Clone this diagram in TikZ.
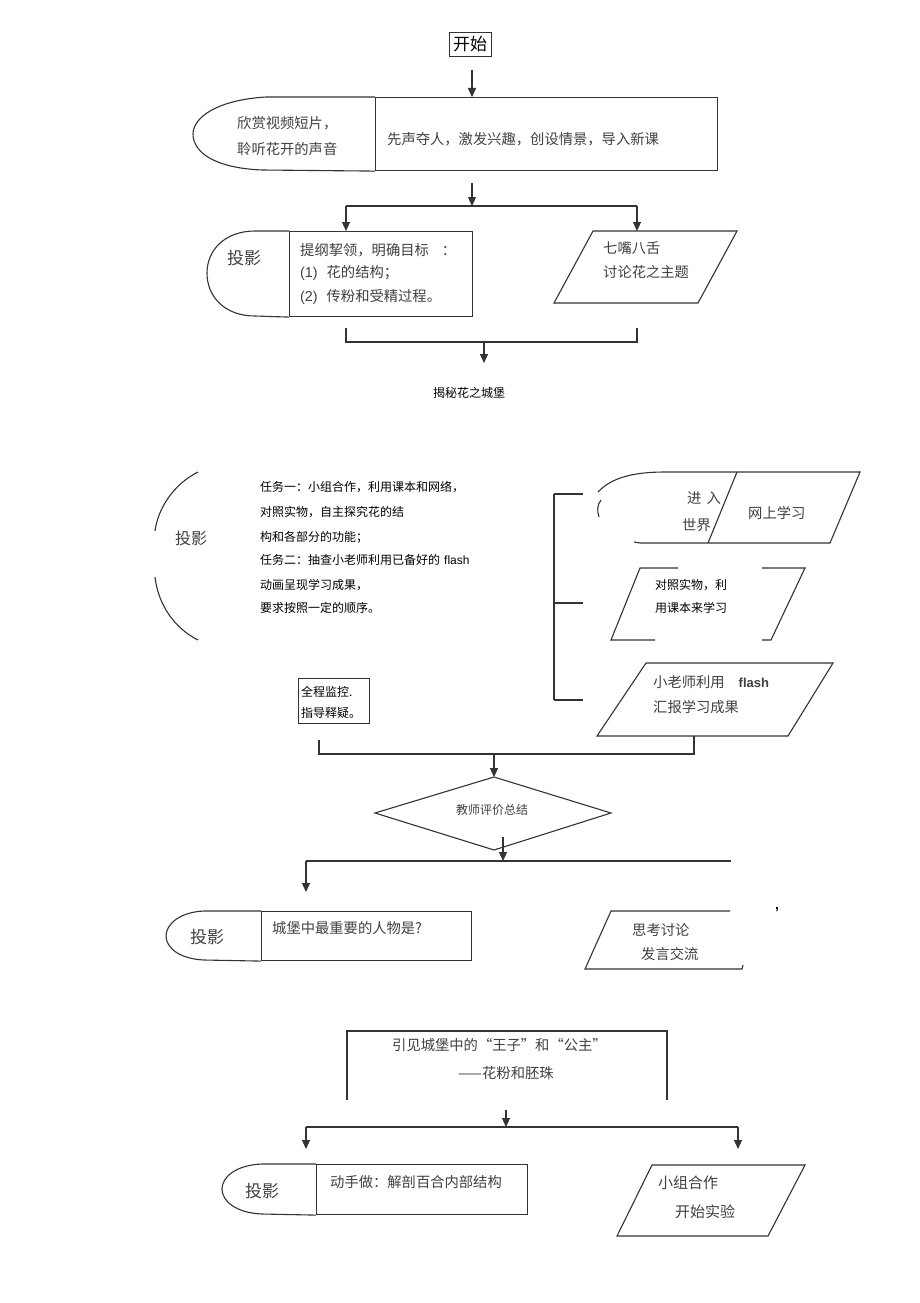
\documentclass[tikz,border=0pt]{standalone}
\usepackage{fontspec}
\setmainfont{Noto Sans CJK SC}
\newfontfamily\arialf{Liberation Sans}
\usetikzlibrary{arrows.meta}
\definecolor{ln}{HTML}{333333}
\definecolor{tx}{HTML}{404040}
\begin{document}
\begin{tikzpicture}[x=1pt,y=-1pt,
  shp/.style={draw=ln, line width=1.1pt},
  con/.style={draw=ln, line width=1.1pt},
  arr/.style={con, -{Triangle[length=9pt,width=8pt]}},
  rbox/.style={shp, anchor=north west, inner sep=0pt},
  t14/.style={font=\fontsize{14.3}{16}\selectfont, text=tx, inner sep=0pt, anchor=west},
  t15/.style={font=\fontsize{15}{17}\selectfont, text=tx, inner sep=0pt, anchor=west},
  t12/.style={font=\fontsize{12}{14}\selectfont, text=black, inner sep=0pt, anchor=west},
  t17/.style={font=\fontsize{17}{19}\selectfont, text=tx, inner sep=0pt, anchor=west},
]
\useasboundingbox[fill=white] (0,0) rectangle (920,1303);

% ---------- start ----------
\node[draw=ln, line width=0.8pt, minimum width=42pt, minimum height=24pt, inner sep=0pt,
      font=\fontsize{17}{19}\selectfont] (start) at (470,44) {开始};
\coordinate (a0) at (472,70);

% ---------- box 1 ----------
\node[rbox, minimum width=342pt, minimum height=73pt] (b1r) at (375,97) {};
\draw[shp] (b1r.north west) -- (266,97) .. controls (216,100) and (193,118) .. (193,134)
  .. controls (193,152) and (214,168) .. (262,170) -- (b1r.south west);
\node[t14] (t1a) at (237,123) {欣赏视频短片，};
\node[t14] (t1b) at (237,149) {聆听花开的声音};
\node[t14] (t1c) at (387,139) {先声夺人，激发兴趣，创设情景，导入新课};
\draw[arr] (a0) -- (a0 |- b1r.north);

% ---------- fork 1 ----------
\coordinate (f1s) at (472,183);
\coordinate (f1) at (472,206);
\coordinate (f1l) at (346,206);
\coordinate (f1r) at (637,206);
\coordinate (p2t) at (637,231);
\draw[arr] (f1s) -- (f1);
\draw[con] (f1l) -- (f1r);

% ---------- box 2 ----------
\node[rbox, minimum width=183pt, minimum height=85pt] (b2r) at (289,231) {};
\draw[shp] (b2r.north west) -- (255,231) .. controls (225,231) and (207,250) .. (207,273)
  .. controls (207,297) and (225,316) .. (255,316) -- (b2r.south west);
\node[t17] (t2a) at (227,258) {投影};
\node[t14] (t2b) at (300,250) {提纲挈领，明确目标\hspace{13pt}：};
\node[t14] (t2c) at (300,273) {{\arialf (1)}\hspace{9pt}花的结构；};
\node[t14] (t2d) at (300,297) {{\arialf (2)}\hspace{9pt}传粉和受精过程。};
\draw[arr] (f1l) -- (f1l |- b2r.north);

% ---------- parallelogram 2 ----------
\draw[shp] (593,231) -- (737,231) -- (698,303) -- (554,303) -- cycle;
\node[t14] (t2e) at (603,248) {七嘴八舌};
\node[t14] (t2f) at (603,272) {讨论花之主题};
\draw[arr] (f1r) -- (p2t);

% ---------- merge 1 ----------
\coordinate (m1a) at (346,328);
\coordinate (m1b) at (346,342);
\coordinate (m1c) at (637,342);
\coordinate (m1d) at (637,328);
\coordinate (m1m) at (484,342);
\coordinate (m1e) at (484,363);
\draw[con] (m1a) -- (m1b) -- (m1c) -- (m1d);
\draw[arr] (m1m) -- (m1e);
\node[t12] (t3) at (433,393) {揭秘花之城堡};

% ---------- section 2: left ----------
\draw[shp] (198,472) .. controls (174,484) and (158,508) .. (155,531);
\draw[shp] (155,577) .. controls (158,604) and (174,628) .. (198,640);
\node[font=\fontsize{16}{18}\selectfont, text=tx, inner sep=0pt, anchor=west] (t4a) at (175,538) {投影};
\node[t12] (t4b) at (260,487) {任务一：小组合作，利用课本和网络，};
\node[t12] (t4c) at (260,512) {对照实物，自主探究花的结};
\node[t12] (t4d) at (260,537) {构和各部分的功能；};
\node[t12] (t4e) at (260,560) {任务二：抽查小老师利用已备好的\hspace{4pt}{\arialf flash}};
\node[t12] (t4f) at (260,585) {动画呈现学习成果，};
\node[t12] (t4g) at (260,608) {要求按照一定的顺序。};

% ---------- section 2: right bracket ----------
\coordinate (br1) at (554,494);
\coordinate (br2) at (554,603);
\coordinate (br3) at (554,700);
\draw[con] (br1) -- (br3);
\draw[con] (br1) -- (583,494);
\draw[con] (br2) -- (583,603);
\draw[con] (br3) -- (583,700);

% shape A
\draw[shp] (598,492) .. controls (612,477) and (635,472) .. (665,472) -- (860,472) -- (830,543) -- (640,543)
  .. controls (637,543) .. (634,542);
\draw[shp] (601,500) .. controls (597,505) and (597,511) .. (599,517);
\draw[shp] (737,472) -- (708,543);
\node[t14] (tA1) at (687,498) {进\hspace{5pt}入};
\node[t14] (tA2) at (682,525) {世界};
\node[t14] (tA3) at (748,513) {网上学习};

% shape B
\draw[shp] (678,568) -- (640,568) -- (611,640) -- (655,640);
\draw[shp] (762,568) -- (805,568) -- (771,640) -- (762,640);
\node[t12] (tB1) at (655,585) {对照实物，利};
\node[t12] (tB2) at (655,608) {用课本来学习};

% shape C
\draw[shp] (646,663) -- (833,663) -- (788,736) -- (597,736) -- cycle;
\node[t14] (tC1) at (653,682) {小老师利用\hspace{14pt}{\arialf\bfseries\fontsize{13}{15}\selectfont flash}};
\node[t14] (tC2) at (653,707) {汇报学习成果};

% monitor box
\node[rbox, draw=ln, line width=0.8pt, minimum width=71pt, minimum height=45pt] (mon) at (298,678) {};
\node[t12] (tm1) at (301,692) {全程监控.};
\node[t12] (tm2) at (301,713) {指导释疑。};

% merge 2
\coordinate (m2a) at (694,736);
\coordinate (m2b) at (694,754);
\coordinate (m2c) at (319,754);
\coordinate (m2d) at (319,740);
\coordinate (m2m) at (494,754);
\draw[con] (m2a) -- (m2b) -- (m2c) -- (m2d);

% diamond
\coordinate (dT) at (494,777);
\coordinate (dL) at (375,813);
\coordinate (dR) at (611,813);
\coordinate (dB) at (494,850);
\draw[shp] (dL) -- (dT) -- (dR) -- (dB) -- cycle;
\node[font=\fontsize{12}{14}\selectfont, text=tx, inner sep=0pt] (dia) at (492,810) {教师评价总结};
\draw[arr] (m2m) -- (dT);

% fork 2
\coordinate (f2s) at (503,837);
\coordinate (f2) at (503,861);
\coordinate (f2l) at (306,861);
\coordinate (f2r) at (731,861);
\draw[arr] (f2s) -- (f2);
\draw[con] (f2l) -- (f2r);

% box 3
\node[rbox, minimum width=210pt, minimum height=49pt] (b3r) at (261,911) {};
\draw[shp] (b3r.north west) -- (204,911) .. controls (180,912) and (166,924) .. (166,936)
  .. controls (166,948) and (180,959) .. (204,960) -- (b3r.south west);
\node[t17] (t5a) at (190,937) {投影};
\node[t14] (t5b) at (272,928) {城堡中最重要的人物是?};
\coordinate (f2le) at (306,892);
\draw[arr] (f2l) -- (f2le);

% parallelogram 3
\draw[shp] (730,911) -- (611,911) -- (585,969) -- (742,969) -- (743,965);
\node[t14] (t5c) at (632,930) {思考讨论};
\node[t14] (t5d) at (641,954) {发言交流};
\node[font=\fontsize{14}{16}\selectfont\arialf\bfseries, inner sep=0pt] (cm) at (777,910) {,};

% box 4
\draw[shp] (347,1100) -- (347,1031) -- (667,1031) -- (667,1100);
\node[t14] (t6a) at (392,1045) {引见城堡中的“王子”和“公主”};
\node[t14] (t6b) at (458,1073) {——花粉和胚珠};

% fork 3
\coordinate (f3s) at (506,1110);
\coordinate (f3) at (506,1127);
\coordinate (f3l) at (306,1127);
\coordinate (f3r) at (738,1127);
\coordinate (f3le) at (306,1149);
\coordinate (f3re) at (738,1149);
\draw[arr] (f3s) -- (f3);
\draw[con] (f3l) -- (f3r);
\draw[arr] (f3l) -- (f3le);
\draw[arr] (f3r) -- (f3re);

% box 5
\node[rbox, minimum width=211pt, minimum height=50pt] (b5r) at (316,1164) {};
\draw[shp] (b5r.north west) -- (262,1164) .. controls (236,1165) and (222,1177) .. (222,1189)
  .. controls (222,1201) and (236,1213) .. (262,1214) -- (b5r.south west);
\node[t17] (t7a) at (245,1191) {投影};
\node[t14] (t7b) at (330,1182) {动手做：解剖百合内部结构};

% parallelogram 5
\draw[shp] (652,1165) -- (805,1165) -- (768,1236) -- (617,1236) -- cycle;
\node[t15] (t7c) at (658,1183) {小组合作};
\node[t15] (t7d) at (675,1212) {开始实验};

\end{tikzpicture}
\end{document}
